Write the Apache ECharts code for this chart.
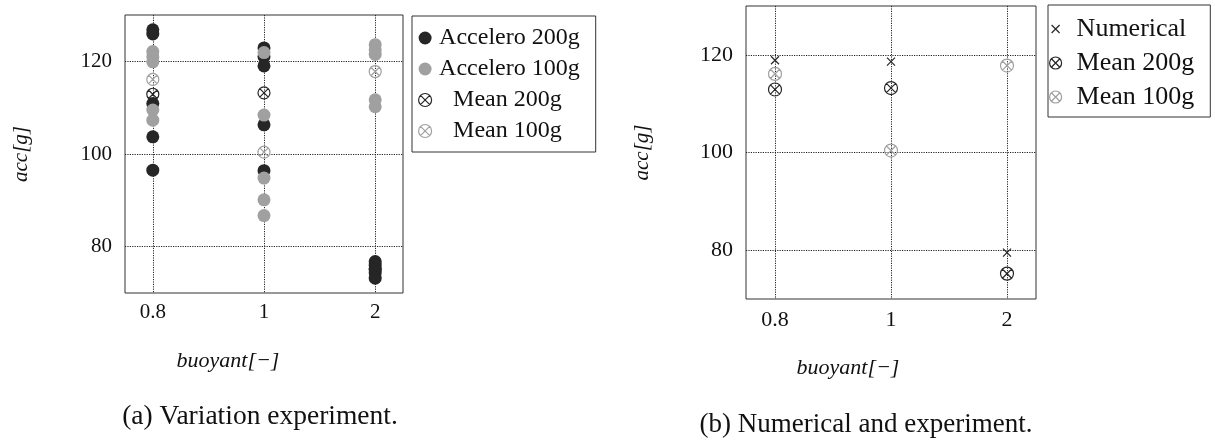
<!DOCTYPE html>
<html>
<head>
<meta charset="utf-8">
<script src="https://cdn.jsdelivr.net/npm/echarts@6/dist/echarts.min.js"></script>
<style>
  html, body { margin: 0; padding: 0; background: #fff; }
  #chart { width: 1215px; height: 443px; }
</style>
</head>
<body>
<div id="chart"></div>
<script>
// Buoyancy levels (x categories) and y tick values
const buoyantLabels = ['0.8', '1', '2'];
const accTicks = [80, 100, 120];

// Accelerometer readings, 200g sensor, per buoyancy level
const acc200At08 = [126.8, 125.9, 110.9, 103.7, 96.5];
const acc200At1 = [122.9, 121.0, 119.0, 106.3, 96.4];
const acc200At2 = [76.8, 76.0, 75.2, 74.3, 73.2];

// Accelerometer readings, 100g sensor, per buoyancy level
const acc100At08 = [122.1, 121.0, 119.9, 109.5, 107.3];
const acc100At1 = [121.9, 108.4, 94.8, 90.1, 86.7];
const acc100At2 = [123.6, 122.5, 121.5, 111.7, 110.2];

// Means of the experiments and the numerical prediction
const mean200 = [112.9, 113.2, 75.2];
const mean100 = [116.1, 100.4, 117.8];
const numerical = [118.9, 118.6, 79.5];

const SERIF = '"Liberation Serif", "DejaVu Serif", serif';
const BLACK = '#262626';
const GREY = '#a0a0a0';
const OTIMES = 'path://M0,-10 A10,10 0 1,1 0,10 A10,10 0 1,1 0,-10 Z M-7.07,-7.07 L7.07,7.07 M7.07,-7.07 L-7.07,7.07';
const CROSS = 'path://M0,0 L10,10 M10,0 L0,10';
// same cross, with empty corner strokes so it sits smaller inside the legend box
const CROSS_SMALL = 'path://M-2.5,-2.5 L-2.5,-2.5 M12.5,12.5 L12.5,12.5 M0,0 L10,10 M10,0 L0,10';

function pts(groups) {
  const out = [];
  groups.forEach((vals, i) => vals.forEach(v => out.push([i, v])));
  return out;
}
function line(vals) { return vals.map((v, i) => [i, v]); }

const gridLine = { show: true, lineStyle: { color: '#222', width: 1, type: [1.2, 1.2] } };

function xAxis(gridIndex, fontSize, margin, nameGap, shift) {
  return {
    type: 'value', gridIndex, min: -0.25, max: 2.25,
    axisLine: { show: false },
    axisTick: { show: false, customValues: [0, 1, 2] },
    axisLabel: {
      customValues: [0, 1, 2], margin,
      formatter: v => buoyantLabels[Math.round(v)],
      fontFamily: SERIF, fontSize, color: '#111'
    },
    splitLine: gridLine,
    name: 'buoyant[\u2212]', nameLocation: 'middle', nameGap,
    nameTextStyle: { fontFamily: SERIF, fontStyle: 'italic', fontSize: 22, color: '#111', padding: [0, shift, 0, 0] }
  };
}
function yAxis(gridIndex, fontSize, margin, nameGap) {
  return {
    type: 'value', gridIndex, min: 70, max: 130,
    axisLine: { show: false },
    axisTick: { show: false, customValues: accTicks },
    axisLabel: { customValues: accTicks, margin, fontFamily: SERIF, fontSize, color: '#111' },
    splitLine: gridLine,
    name: 'acc[g]', nameLocation: 'middle', nameRotate: 90, nameGap,
    nameTextStyle: { fontFamily: SERIF, fontStyle: 'italic', fontSize: 21, color: '#111' }
  };
}

const dotStyle = c => ({ color: c, borderWidth: 0, opacity: 1 });
const ringStyle = c => ({ color: 'rgba(0,0,0,0)', borderColor: c, borderWidth: 1.2, opacity: 1 });

const option = {
  animation: false,
  backgroundColor: '#fff',
  grid: [
    { left: 125, top: 15, width: 278, height: 278, show: true, borderColor: '#333', borderWidth: 1, backgroundColor: 'transparent' },
    { left: 746, top: 6, width: 290, height: 293, show: true, borderColor: '#333', borderWidth: 1, backgroundColor: 'transparent' }
  ],
  xAxis: [xAxis(0, 21, 9, 57, 72), xAxis(1, 22, 10, 58, 86)],
  yAxis: [yAxis(0, 21, 13, 93), yAxis(1, 22, 13, 93)],
  legend: [
    {
      left: 412, top: 16, orient: 'vertical', selectedMode: false,
      itemWidth: 18, itemHeight: 13, itemGap: 7,
      padding: [10, 16, 9, 6],
      borderColor: '#333', borderWidth: 1,
      data: [
        { name: 'Accelero 200g' },
        { name: 'Accelero 100g' },
        { name: 'Mean 200g', itemStyle: { borderWidth: 1.2 } },
        { name: 'Mean 100g', itemStyle: { borderWidth: 1.2 } }
      ],
      formatter: n => n.startsWith('Mean') ? '{ind|' + n + '}' : n,
      textStyle: {
        fontFamily: SERIF, fontSize: 24, color: '#111', lineHeight: 24,
        rich: { ind: { fontFamily: SERIF, fontSize: 24, color: '#111', padding: [0, 0, 0, 14] } }
      }
    },
    {
      left: 1048, top: 5, orient: 'vertical', selectedMode: false,
      itemWidth: 22, itemHeight: 12, itemGap: 8,
      padding: [11, 16, 7, 1],
      borderColor: '#333', borderWidth: 1,
      data: [
        { name: 'Numerical', icon: CROSS_SMALL, itemStyle: { borderWidth: 1.2 } },
        { name: 'Mean 200g', itemStyle: { borderWidth: 1.2 } },
        { name: 'Mean 100g', itemStyle: { borderWidth: 1.2 } }
      ],
      formatter: n => '{t|' + n + '}',
      textStyle: {
        fontFamily: SERIF, fontSize: 26, color: '#111', lineHeight: 26,
        rich: { t: { fontFamily: SERIF, fontSize: 26, color: '#111', padding: [0, 0, 0, 5] } }
      }
    }
  ],
  series: [
    { name: 'Accelero 200g', type: 'scatter', xAxisIndex: 0, yAxisIndex: 0, symbol: 'circle', symbolSize: 13,
      itemStyle: dotStyle(BLACK), data: pts([acc200At08, acc200At1, acc200At2]) },
    { name: 'Accelero 100g', type: 'scatter', xAxisIndex: 0, yAxisIndex: 0, symbol: 'circle', symbolSize: 13,
      itemStyle: dotStyle(GREY), data: pts([acc100At08, acc100At1, acc100At2]) },
    { name: 'Mean 200g', type: 'scatter', xAxisIndex: 0, yAxisIndex: 0, symbol: OTIMES, symbolSize: 12,
      itemStyle: ringStyle(BLACK), data: line(mean200) },
    { name: 'Mean 100g', type: 'scatter', xAxisIndex: 0, yAxisIndex: 0, symbol: OTIMES, symbolSize: 12,
      itemStyle: ringStyle(GREY), data: line(mean100) },

    { name: 'Numerical', type: 'scatter', xAxisIndex: 1, yAxisIndex: 1, symbol: CROSS, symbolSize: 8,
      itemStyle: ringStyle(BLACK), data: line(numerical) },
    { name: 'Mean 200g', type: 'scatter', xAxisIndex: 1, yAxisIndex: 1, symbol: OTIMES, symbolSize: 13,
      itemStyle: ringStyle(BLACK), data: line(mean200) },
    { name: 'Mean 100g', type: 'scatter', xAxisIndex: 1, yAxisIndex: 1, symbol: OTIMES, symbolSize: 13,
      itemStyle: ringStyle(GREY), data: line(mean100) }
  ],
  graphic: [
    { type: 'text', x: 260, y: 417, style: { text: '(a) Variation experiment.', font: '27.5px ' + SERIF, fill: '#111', textAlign: 'center', textVerticalAlign: 'middle' } },
    { type: 'text', x: 866, y: 425, style: { text: '(b) Numerical and experiment.', font: '27px ' + SERIF, fill: '#111', textAlign: 'center', textVerticalAlign: 'middle' } }
  ]
};

const chart = echarts.init(document.getElementById('chart'), null, { renderer: 'canvas' });
chart.setOption(option);
</script>
</body>
</html>
